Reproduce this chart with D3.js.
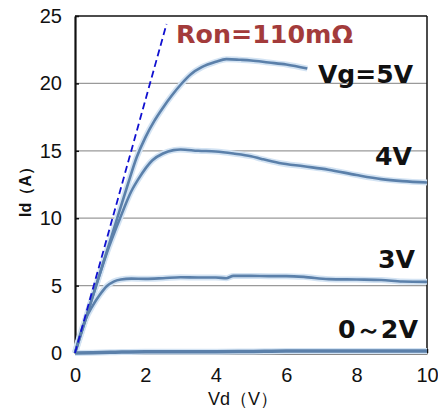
<!DOCTYPE html>
<html>
<head>
<meta charset="utf-8">
<script src="https://cdn.jsdelivr.net/npm/d3@7"></script>
<style>
	body { margin: 0; background: #fff; }
	svg { display: block; }
	.tick text { font-family: "Liberation Sans", Arial, sans-serif; font-size: 20px; fill: #111; }
	.lbl { font-family: "DejaVu Sans", sans-serif; font-weight: bold; }
</style>
</head>
<body>
<svg id="chart" width="438" height="418"></svg>
<script>
// Id-Vd curves, values
var vg5 = [[0,0],[0.3,2.5],[0.6,5.0],[0.9,7.5],[1.2,10.0],[1.5,12.5],[1.75,14.5],[2.0,16.0],[2.25,17.2],[2.5,18.2],[2.75,19.1],[3.0,19.9],[3.3,20.7],[3.6,21.2],[4.0,21.6],[4.3,21.8],[4.7,21.75],[5.0,21.7],[5.5,21.55],[6.0,21.4],[6.6,21.1]];
var vg4 = [[0,0],[0.3,2.5],[0.6,5.0],[0.9,7.4],[1.28,10],[1.6,12],[1.8,12.9],[2.2,14.3],[2.5,14.8],[2.8,15.05],[3.0,15.1],[3.5,15.0],[4.0,14.95],[4.5,14.8],[5.0,14.6],[5.3,14.4],[5.8,14.1],[6.5,13.85],[7.2,13.6],[8.0,13.2],[8.7,12.9],[9.3,12.75],[10,12.65]];
var vg3 = [[0,0],[0.15,1.4],[0.3,2.5],[0.5,3.5],[0.7,4.3],[0.9,4.95],[1.1,5.3],[1.3,5.45],[1.6,5.52],[2.0,5.5],[2.5,5.55],[3.0,5.62],[3.5,5.6],[4.0,5.6],[4.3,5.55],[4.5,5.72],[5.0,5.72],[5.5,5.7],[6.0,5.7],[6.5,5.65],[7.2,5.48],[8.0,5.45],[8.7,5.42],[9.3,5.3],[10,5.28]];
var vg0to2 = [[0,0],[1,0.05],[2,0.1],[3,0.1],[4,0.1],[5,0.12],[6,0.15],[7,0.15],[8,0.15],[9,0.15],[10,0.15]];
var ronLine = [[0,0],[2.6,24.4]];

var xTicks = [0, 2, 4, 6, 8, 10];
var yTicks = [0, 5, 10, 15, 20, 25];
var gridValues = [5, 10, 15, 20];

var svg = d3.select("#chart");
var margin = {top: 16, right: 11, bottom: 65, left: 75},
	width = +svg.attr("width") - margin.left - margin.right,
	height = +svg.attr("height") - margin.top - margin.bottom;

var g = svg.append("g").attr("transform", "translate(" + margin.left + "," + margin.top + ")");

var x = d3.scaleLinear().domain([0, 10]).range([0, width]);
var y = d3.scaleLinear().domain([0, 25]).range([height, 0]);

// grid
g.selectAll(".grid")
	.data(gridValues)
	.enter().append("line")
	.attr("x1", 0).attr("x2", width)
	.attr("y1", d => y(d)).attr("y2", d => y(d))
	.attr("stroke", "#9a9a9a").attr("stroke-width", 1.2);

// frame top / right
g.append("line").attr("x1", 0).attr("x2", width).attr("y1", 0).attr("y2", 0)
	.attr("stroke", "#111").attr("stroke-width", 1.5);
g.append("line").attr("x1", width).attr("x2", width).attr("y1", 0).attr("y2", height)
	.attr("stroke", "#111").attr("stroke-width", 1.5);

var xAxis = g.append("g")
	.attr("transform", "translate(0," + height + ")")
	.call(d3.axisBottom(x).tickValues(xTicks).tickSizeInner(-4).tickSizeOuter(0).tickPadding(14));
var yAxis = g.append("g")
	.call(d3.axisLeft(y).tickValues(yTicks).tickSizeInner(-4).tickSizeOuter(0).tickPadding(13));
[xAxis, yAxis].forEach(function(a) {
	a.select(".domain").attr("stroke", "#111").attr("stroke-width", 2.2);
	a.selectAll(".tick line").attr("stroke", "#111").attr("stroke-width", 1.5);
});
xAxis.selectAll(".tick text").attr("dy", "0.75em");

var line = d3.line()
	.x(d => x(d[0]))
	.y(d => y(d[1]))
	.curve(d3.curveMonotoneX);

var curves = [vg5, vg4, vg3, vg0to2];

// soft halo under curves
g.selectAll(".halo")
	.data(curves)
	.enter().append("path")
	.attr("d", line)
	.attr("fill", "none")
	.attr("stroke", "#d3e3f3")
	.attr("stroke-width", 6)
	.attr("stroke-linejoin", "round");

g.selectAll(".curve")
	.data(curves)
	.enter().append("path")
	.attr("d", line)
	.attr("fill", "none")
	.attr("stroke", "#5b80aa")
	.attr("stroke-width", (d, i) => i == 3 ? 3.5 : 2.6)
	.attr("stroke-linejoin", "round");

// Ron line
g.append("path")
	.datum(ronLine)
	.attr("d", d3.line().x(d => x(d[0])).y(d => y(d[1])))
	.attr("fill", "none")
	.attr("stroke", "#1010d0")
	.attr("stroke-width", 1.8)
	.attr("stroke-dasharray", "7,4");

// labels
svg.append("text").attr("class", "lbl")
	.attr("x", 176).attr("y", 43)
	.attr("font-size", 24).attr("fill", "#a33b3b")
	.attr("textLength", 177).attr("lengthAdjust", "spacingAndGlyphs")
	.text("Ron=110mΩ");

var curveLabels = [
	{t: "Vg=5V", x: 318, y: 83, w: 95},
	{t: "4V", x: 375, y: 165, w: 37},
	{t: "3V", x: 378, y: 268, w: 37},
	{t: "0～2V", x: 338, y: 338, w: 80}
];
svg.selectAll(".clbl")
	.data(curveLabels)
	.enter().append("text")
	.attr("class", "lbl")
	.attr("x", d => d.x).attr("y", d => d.y)
	.attr("font-size", 24).attr("fill", "#111")
	.attr("textLength", d => d.w).attr("lengthAdjust", "spacingAndGlyphs")
	.text(d => d.t);

svg.append("text")
	.attr("x", 243).attr("y", 405)
	.attr("text-anchor", "middle")
	.attr("font-family", "Liberation Sans, Arial, sans-serif")
	.attr("font-size", 18).attr("fill", "#111")
	.text("Vd（V）");

svg.append("text")
	.attr("transform", "translate(31,188) rotate(-90)")
	.attr("text-anchor", "middle")
	.attr("font-family", "Liberation Sans, Arial, sans-serif")
	.attr("font-weight", "bold")
	.attr("font-size", 16).attr("fill", "#111")
	.text("Id（A）");
</script>
</body>
</html>
